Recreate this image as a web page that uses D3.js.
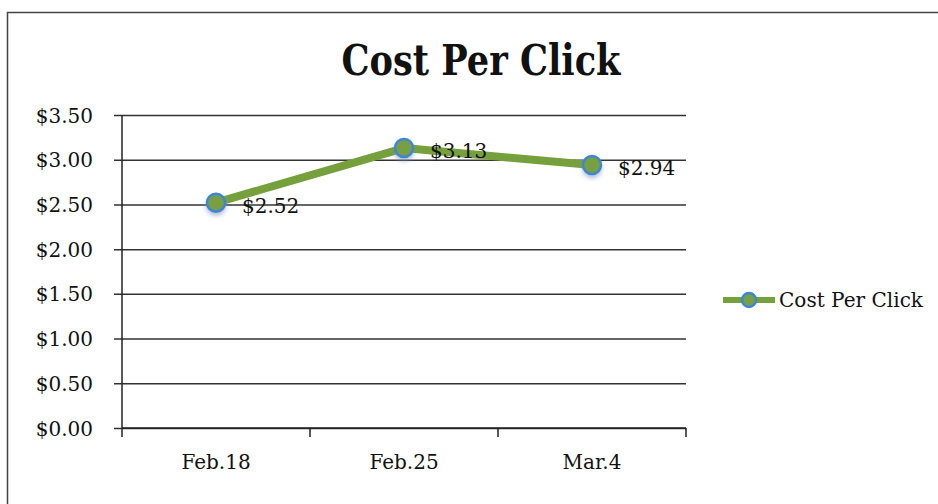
<!DOCTYPE html>
<html>
<head>
<meta charset="utf-8">
<script src="https://cdn.jsdelivr.net/npm/d3@7"></script>
<style>
  body { margin: 0; background: #fff; }
  svg { display: block; }
  .tick text { font-family: "DejaVu Serif", serif; }
</style>
</head>
<body>
<div id="chart-container"></div>
<script>
// Data
var weeks = ["Feb.18", "Feb.25", "Mar.4"];
var costPerClick = [2.52, 3.13, 2.94];
var yTicks = [0, 0.5, 1, 1.5, 2, 2.5, 3, 3.5];
var seriesName = "Cost Per Click";

var data = weeks.map(function(w, i) { return { week: w, value: costPerClick[i] }; });

var W = 938, H = 504;
var margin = { top: 115, left: 122, right: 252, bottom: 76 };
var width = W - margin.left - margin.right;   // 564
var height = H - margin.top - margin.bottom;  // 313

var svg = d3.select("#chart-container")
    .append("svg")
    .attr("width", W)
    .attr("height", H);

// soft shadow under markers
var defs = svg.append("defs");
var f = defs.append("filter").attr("id", "shadow")
    .attr("x", "-50%").attr("y", "-50%").attr("width", "200%").attr("height", "200%");
f.append("feDropShadow")
    .attr("dx", 0).attr("dy", 3).attr("stdDeviation", 2)
    .attr("flood-color", "#7d8fb8").attr("flood-opacity", 0.55);

// chart border (right/bottom run off the page)
svg.append("rect")
    .attr("x", 7.5).attr("y", 12.5)
    .attr("width", 960).attr("height", 520)
    .attr("fill", "none")
    .attr("stroke", "#444")
    .attr("stroke-width", 1.5);

// title
svg.append("text")
    .attr("x", 481)
    .attr("y", 75)
    .attr("text-anchor", "middle")
    .attr("font-family", "DejaVu Serif, serif")
    .attr("font-weight", "bold")
    .attr("font-size", 42)
    .attr("textLength", 279)
    .attr("lengthAdjust", "spacingAndGlyphs")
    .attr("fill", "#111")
    .text("Cost Per Click");

var g = svg.append("g")
    .attr("transform", "translate(" + margin.left + "," + margin.top + ")");

var xScale = d3.scaleBand().domain(weeks).range([0, width]);
var yScale = d3.scaleLinear().domain([0, 3.5]).range([height, 0]);

// gridlines + y axis
var yAxis = d3.axisLeft(yScale)
    .tickValues(yTicks)
    .tickSize(-(width + 8))
    .tickFormat(d3.format("$.2f"));

var yg = g.append("g").call(yAxis);
yg.select(".domain").remove();
yg.selectAll(".tick line")
    .attr("x1", -8)
    .attr("x2", width)
    .attr("stroke", "#333")
    .attr("stroke-width", 1.5);
yg.selectAll(".tick text")
    .attr("x", -29)
    .attr("dy", "0.35em")
    .attr("font-size", 20)
    .attr("fill", "#111");

// y axis line
g.append("line")
    .attr("x1", 0).attr("x2", 0)
    .attr("y1", 0).attr("y2", height)
    .attr("stroke", "#222")
    .attr("stroke-width", 1.5);

// x axis
var xAxis = d3.axisBottom(xScale).tickSize(0);
var xg = g.append("g")
    .attr("transform", "translate(0," + height + ")")
    .call(xAxis);
xg.select(".domain").remove();
xg.selectAll(".tick text")
    .attr("y", 34)
    .attr("dy", "0.35em")
    .attr("font-size", 20)
    .attr("fill", "#111");

// x axis tick marks at category boundaries
var bounds = weeks.map(function(w) { return xScale(w); }).concat([width]);
g.selectAll(".xbound")
    .data(bounds)
    .enter().append("line")
    .attr("class", "xbound")
    .attr("x1", function(d) { return d; })
    .attr("x2", function(d) { return d; })
    .attr("y1", height)
    .attr("y2", height + 9)
    .attr("stroke", "#222")
    .attr("stroke-width", 1.5);
g.append("line")
    .attr("x1", 0).attr("x2", width)
    .attr("y1", height).attr("y2", height)
    .attr("stroke", "#222")
    .attr("stroke-width", 1.5);

var cx = function(d) { return xScale(d.week) + xScale.bandwidth() / 2; };
var cy = function(d) { return yScale(d.value); };

// series line
var line = d3.line().x(cx).y(cy);
g.append("path")
    .datum(data)
    .attr("fill", "none")
    .attr("stroke", "#76a03c")
    .attr("stroke-width", 8)
    .attr("stroke-linejoin", "round")
    .attr("d", line);

// markers
g.selectAll(".dot")
    .data(data)
    .enter().append("circle")
    .attr("class", "dot")
    .attr("cx", cx)
    .attr("cy", cy)
    .attr("r", 9)
    .attr("fill", "#78a042")
    .attr("stroke", "#3d86d6")
    .attr("stroke-width", 2.5)
    .attr("filter", "url(#shadow)");

// data labels
g.selectAll(".lbl")
    .data(data)
    .enter().append("text")
    .attr("class", "lbl")
    .attr("x", function(d) { return cx(d) + 26; })
    .attr("y", function(d) { return cy(d) + 3; })
    .attr("dy", "0.35em")
    .attr("font-family", "DejaVu Serif, serif")
    .attr("font-size", 20)
    .attr("fill", "#111")
    .text(function(d) { return d3.format("$.2f")(d.value); });

// legend
var legend = svg.append("g")
    .attr("transform", "translate(723,300)");
legend.append("line")
    .attr("x1", 0).attr("x2", 52)
    .attr("y1", 0).attr("y2", 0)
    .attr("stroke", "#76a03c")
    .attr("stroke-width", 6);
legend.append("circle")
    .attr("cx", 26).attr("cy", 0).attr("r", 7)
    .attr("fill", "#78a042")
    .attr("stroke", "#3d86d6")
    .attr("stroke-width", 2.5);
legend.append("text")
    .attr("x", 56)
    .attr("y", 0)
    .attr("dy", "0.35em")
    .attr("font-family", "DejaVu Serif, serif")
    .attr("font-size", 20)
    .attr("textLength", 144)
    .attr("lengthAdjust", "spacingAndGlyphs")
    .attr("fill", "#111")
    .text(seriesName);
</script>
</body>
</html>
